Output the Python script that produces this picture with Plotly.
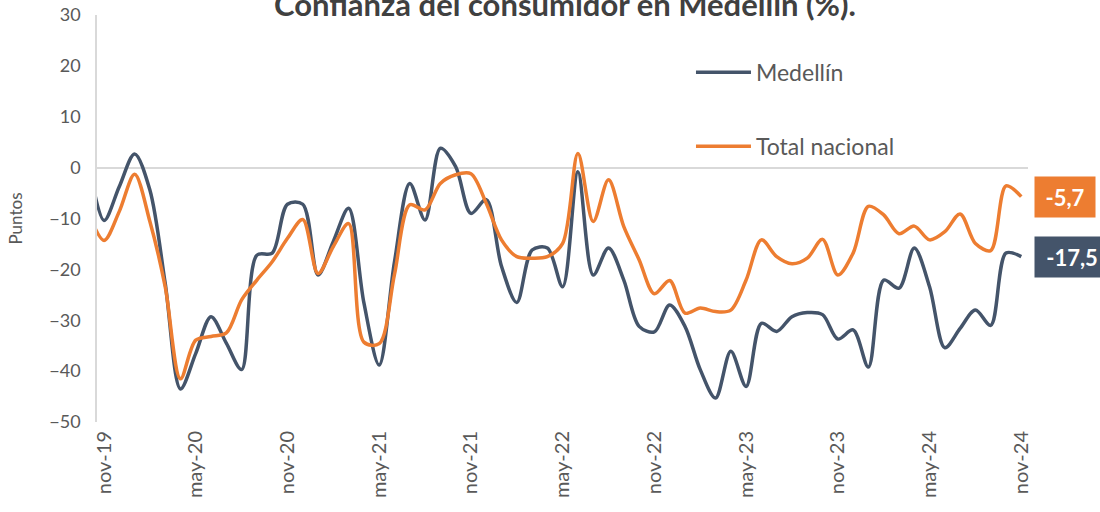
import plotly.graph_objects as go

months = ["oct-19",
          "nov-19", "dic-19", "ene-20", "feb-20", "mar-20", "abr-20", "may-20", "jun-20", "jul-20", "ago-20", "sep-20", "oct-20",
          "nov-20", "dic-20", "ene-21", "feb-21", "mar-21", "abr-21", "may-21", "jun-21", "jul-21", "ago-21", "sep-21", "oct-21",
          "nov-21", "dic-21", "ene-22", "feb-22", "mar-22", "abr-22", "may-22", "jun-22", "jul-22", "ago-22", "sep-22", "oct-22",
          "nov-22", "dic-22", "ene-23", "feb-23", "mar-23", "abr-23", "may-23", "jun-23", "jul-23", "ago-23", "sep-23", "oct-23",
          "nov-23", "dic-23", "ene-24", "feb-24", "mar-24", "abr-24", "may-24", "jun-24", "jul-24", "ago-24", "sep-24", "oct-24",
          "nov-24"]

medellin = [1.0,
            -10.4, -3.7, 2.7, -4.4, -22.7, -43.5, -36.5, -29.3, -34.5, -39.7, -17.2, -16.8,
            -7.2, -7.2, -21.1, -14.5, -8.0, -26.6, -38.8, -18.5, -3.1, -10.3, 3.8, 0.2,
            -9.0, -6.3, -19.4, -26.5, -16.2, -15.8, -23.4, -0.8, -21.1, -15.8, -22.1, -31.2,
            -32.3, -27.0, -31.2, -39.7, -45.3, -36.1, -43.0, -30.6, -32.2, -29.3, -28.5, -28.9,
            -33.7, -31.9, -39.2, -22.1, -23.7, -15.8, -23.4, -35.4, -31.6, -28.0, -31.0, -16.8,
            -17.5]

nacional = [-9.0,
            -14.3, -8.6, -1.3, -10.6, -23.4, -41.5, -33.9, -33.2, -32.5, -26.0, -22.1, -18.5,
            -13.9, -10.2, -20.8, -15.5, -11.0, -34.3, -34.6, -21.0, -7.3, -8.3, -3.1, -1.4,
            -1.2, -7.0, -14.2, -17.5, -17.8, -17.5, -14.9, 2.8, -10.6, -2.4, -11.6, -18.1,
            -24.8, -22.2, -28.6, -27.6, -28.3, -28.0, -22.1, -14.2, -17.5, -18.9, -17.8, -14.1,
            -21.1, -16.8, -7.6, -9.3, -13.0, -11.5, -14.2, -12.6, -9.1, -14.9, -16.3, -3.6,
            -5.7]

tick_labels = ["nov-19", "may-20", "nov-20", "may-21", "nov-21", "may-22",
               "nov-22", "may-23", "nov-23", "may-24", "nov-24"]

series_names = ["Medellín", "Total nacional"]
colors = ["#44546A", "#ED7D31"]

FONT = "Lato"
GRAY = "#595959"

fig = go.Figure()
for i, (name, vals) in enumerate(zip(series_names, [medellin, nacional])):
    fig.add_trace(go.Scatter(
        x=months, y=vals, name=name, mode="lines",
        line=dict(color=colors[i], width=3.5, shape="spline", smoothing=0.9),
        legendgroup=str(i), cliponaxis=True,
    ))

# end-of-series data labels
for i, vals in enumerate([medellin, nacional]):
    txt = ("%.1f" % vals[-1]).replace(".", ",")
    fig.add_annotation(
        x=months[-1], y=vals[-1], xref="x", yref="y",
        text="<b>%s</b>" % txt, showarrow=False,
        xanchor="left", yanchor="middle", xshift=13,
        font=dict(family=FONT, size=22, color="white"),
        bgcolor=colors[i], width=58 if i == 1 else 72, height=38,
        align="center",
    )

fig.add_annotation(
    text="<b>Confianza del consumidor en Medellín (%).</b>",
    x=0.503, y=1.026, xref="paper", yref="paper",
    xanchor="center", yanchor="middle", showarrow=False,
    font=dict(family=FONT, size=31, color="#404040"),
)

fig.update_layout(
    width=1100, height=512,
    margin=dict(l=97, r=72, t=15, b=90, autoexpand=False),
    paper_bgcolor="white", plot_bgcolor="white",
    showlegend=True,
    legend=dict(
        x=0.638, y=0.912, xanchor="left", yanchor="top",
        font=dict(family=FONT, size=23, color=GRAY),
        bgcolor="rgba(0,0,0,0)", tracegroupgap=41, itemwidth=55,
        traceorder="grouped",
    ),
    font=dict(family=FONT, color=GRAY),
)

fig.update_xaxes(
    type="category", categoryorder="array", categoryarray=months,
    range=[0.54, 61.44], automargin=False,
    tickmode="array", tickvals=tick_labels, ticktext=tick_labels,
    tickangle=-90, tickfont=dict(family=FONT, size=20, color=GRAY),
    showgrid=False, showline=False, ticks="", ticklabelstandoff=4,
    zeroline=False,
)
fig.update_yaxes(
    range=[-50, 30], dtick=10, tick0=0, automargin=False,
    tickfont=dict(family=FONT, size=18, color=GRAY),
    showgrid=False, zeroline=True, zerolinecolor="#D9D9D9", zerolinewidth=2,
    showline=True, linecolor="#D9D9D9", linewidth=1.5, ticks="",
    ticklabelstandoff=11,
    title=dict(text="Puntos", font=dict(family=FONT, size=17, color=GRAY), standoff=22),
)

fig.write_html("out.html",
               config={"displayModeBar": False},
               post_script="document.body.style.margin='0px';document.body.style.padding='0px';")
